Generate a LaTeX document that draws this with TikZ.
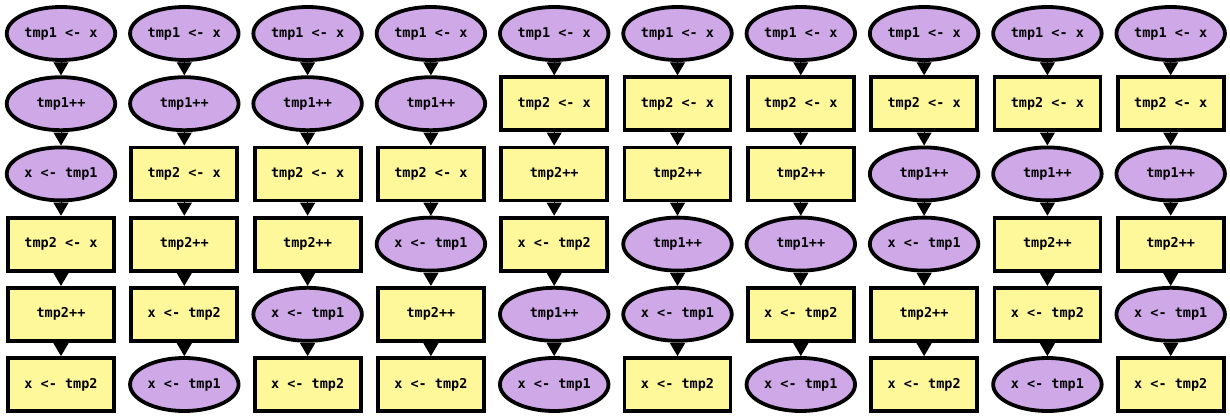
\documentclass[tikz,border=0pt]{standalone}
\usepackage{fontspec}
\setmonofont{DejaVu Sans Mono}
\usetikzlibrary{arrows.meta,shapes.geometric}
\definecolor{tmpone}{RGB}{207,168,232}
\definecolor{tmptwo}{RGB}{255,248,155}
\newcommand\drawcol[2]{%
  \foreach \st/\tx [count=\r] in {#2} {
    \pgfmathsetmacro\xx{61+123.3*(#1-1)}
    \pgfmathsetmacro\yy{33.5+70.2*(\r-1)}
    \node[\st] (n#1-\r) at (\xx,\yy) {\tx};
    \ifnum\r>1
      \pgfmathtruncatemacro\p{\r-1}
      \draw[arr] (n#1-\p) -- (n#1-\r);
    \fi
  }%
}
\begin{document}
\begin{tikzpicture}[x=1pt,y=-1pt,
  base/.style={line width=3.8pt,draw=black,font=\ttfamily\bfseries\fontsize{13.5}{16}\selectfont,inner sep=0pt},
  ell/.style={base,ellipse,fill=tmpone,minimum width=108.5pt,minimum height=53pt},
  box/.style={base,rectangle,fill=tmptwo,minimum width=106pt,minimum height=53pt},
  arr/.style={line width=1pt,-{Triangle[length=13pt,width=15pt]}}]
\useasboundingbox (0,0) rectangle (1230,415);
\drawcol{1}{ell/tmp1 <- x, ell/tmp1++, ell/x <- tmp1, box/tmp2 <- x, box/tmp2++, box/x <- tmp2}
\drawcol{2}{ell/tmp1 <- x, ell/tmp1++, box/tmp2 <- x, box/tmp2++, box/x <- tmp2, ell/x <- tmp1}
\drawcol{3}{ell/tmp1 <- x, ell/tmp1++, box/tmp2 <- x, box/tmp2++, ell/x <- tmp1, box/x <- tmp2}
\drawcol{4}{ell/tmp1 <- x, ell/tmp1++, box/tmp2 <- x, ell/x <- tmp1, box/tmp2++, box/x <- tmp2}
\drawcol{5}{ell/tmp1 <- x, box/tmp2 <- x, box/tmp2++, box/x <- tmp2, ell/tmp1++, ell/x <- tmp1}
\drawcol{6}{ell/tmp1 <- x, box/tmp2 <- x, box/tmp2++, ell/tmp1++, ell/x <- tmp1, box/x <- tmp2}
\drawcol{7}{ell/tmp1 <- x, box/tmp2 <- x, box/tmp2++, ell/tmp1++, box/x <- tmp2, ell/x <- tmp1}
\drawcol{8}{ell/tmp1 <- x, box/tmp2 <- x, ell/tmp1++, ell/x <- tmp1, box/tmp2++, box/x <- tmp2}
\drawcol{9}{ell/tmp1 <- x, box/tmp2 <- x, ell/tmp1++, box/tmp2++, box/x <- tmp2, ell/x <- tmp1}
\drawcol{10}{ell/tmp1 <- x, box/tmp2 <- x, ell/tmp1++, box/tmp2++, ell/x <- tmp1, box/x <- tmp2}
\end{tikzpicture}
\end{document}
